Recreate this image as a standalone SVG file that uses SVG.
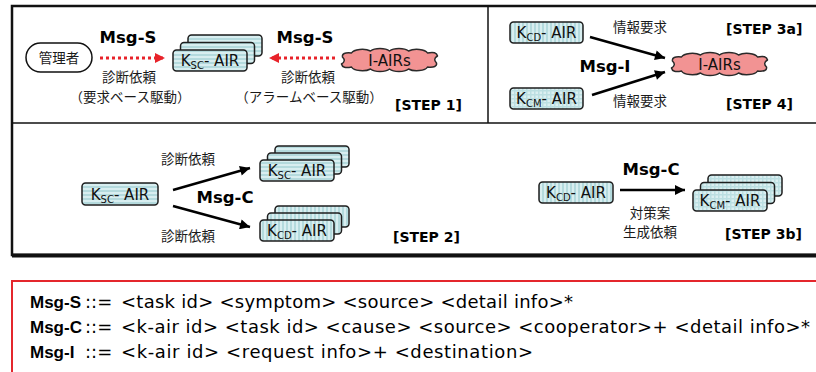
<svg xmlns="http://www.w3.org/2000/svg" width="816" height="372" viewBox="0 0 816 372">
  <style>
    .frame { fill: none; stroke: #111; stroke-width: 2.5; }
    .divider { stroke: #111; stroke-width: 1.5; }
    .kbox { stroke: #1e1e1e; stroke-width: 1.5; }
    .hs { fill: url(#hstripe); }
    .vs { fill: url(#vstripe); }
    .gr { fill: url(#grid); }
    .ktext { font-family: "DejaVu Sans", Verdana, sans-serif; font-size: 15px; fill: #111; text-anchor: middle; }
    .sub { font-size: 10px; }
    .msg { font-family: "DejaVu Sans", Verdana, sans-serif; font-weight: bold; font-size: 16.5px; fill: #000; text-anchor: middle; }
    .step { font-family: "DejaVu Sans", Verdana, sans-serif; font-weight: bold; font-size: 14px; fill: #000; }
    .jp { font-family: "Noto Sans CJK JP", "Noto Sans CJK SC", sans-serif; font-size: 13.5px; fill: #1a1a1a; text-anchor: middle; }
    .cloud { fill: #f29393; stroke: #2a2a2a; stroke-width: 1.5; stroke-linejoin: round; }
    .cloudtext { font-family: "DejaVu Sans", Verdana, sans-serif; font-size: 15px; fill: #111; text-anchor: middle; }
    .arrow { fill: none; stroke: #000; stroke-width: 2.5; marker-end: url(#blackhead); }
    .dotted { fill: none; stroke: #e8232a; stroke-width: 3; stroke-dasharray: 3 3; marker-end: url(#redhead); }
    .def { font-family: "DejaVu Sans", Verdana, sans-serif; font-size: 18px; fill: #000; }
    .defkey { font-family: "Liberation Sans", Arial, sans-serif; font-size: 17px; font-weight: bold; fill: #000; }
  </style>
  <defs>
    <pattern id="hstripe" width="6" height="4" patternUnits="userSpaceOnUse">
      <rect width="6" height="4" fill="#d8eef0"/>
      <rect y="2" width="6" height="2" fill="#b4dadd"/>
    </pattern>
    <pattern id="vstripe" width="4" height="6" patternUnits="userSpaceOnUse">
      <rect width="4" height="6" fill="#d8eef0"/>
      <rect x="2" width="2" height="6" fill="#b4dadd"/>
    </pattern>
    <pattern id="grid" width="4" height="4" patternUnits="userSpaceOnUse">
      <rect width="4" height="4" fill="#dbeff1"/>
      <rect y="2" width="4" height="1.5" fill="#bcdfe2"/>
      <rect x="2" width="1.5" height="4" fill="#bcdfe2"/>
    </pattern>
    <marker id="blackhead" viewBox="0 0 10 10" refX="10" refY="5" markerWidth="11" markerHeight="10" markerUnits="userSpaceOnUse" orient="auto">
      <path d="M0,0 L10,5 L0,10 Z" fill="#000"/>
    </marker>
    <marker id="redhead" viewBox="0 0 10 10" refX="10" refY="5" markerWidth="10" markerHeight="10" markerUnits="userSpaceOnUse" orient="auto">
      <path d="M0,0 L10,5 L0,10 Z" fill="#e8232a"/>
    </marker>
    <!-- cloud outline centred on the origin, about 96 x 24 -->
    <path id="cloudshape" d="M-38,-7 A11,5 0 0 1 -19,-9 A11,5 0 0 1 0,-9 A11,5 0 0 1 19,-9 A11,5 0 0 1 38,-7 Q47,-9 48,-4 Q43,-1 47,3 Q48,8 38,7 A11,5 0 0 1 19,9 A11,5 0 0 1 0,9 A11,5 0 0 1 -19,9 A11,5 0 0 1 -38,7 Q-47,9 -48,4 Q-43,1 -47,-3 Q-48,-8 -38,-7 Z"/>
  </defs>

  <rect width="816" height="372" fill="#fff"/>

  <!-- panel frame -->
  <g id="frame">
    <rect class="frame" x="12" y="6" width="830" height="249"/>
    <line x1="12" y1="255.5" x2="816" y2="255.5" stroke="#111" stroke-width="4"/>
    <line class="divider" x1="12" y1="123" x2="816" y2="123"/>
    <line class="divider" x1="488" y1="6" x2="488" y2="123"/>
  </g>

  <!-- connectors -->
  <g id="connectors">
    <path class="dotted" d="M100,58 L165,58"/>
    <path class="dotted" d="M335,58 L269,58"/>
    <path class="arrow" d="M173,190 L250,168"/>
    <path class="arrow" d="M173,206 L250,227"/>
    <path class="arrow" d="M590,37 L665,58"/>
    <path class="arrow" d="M592,95 L665,72"/>
    <path class="arrow" d="M620,190 L685,190"/>
  </g>

  <!-- STEP 1 -->
  <g id="admin">
    <rect x="26" y="43" width="66" height="29" rx="14.5" fill="#fff" stroke="#111" stroke-width="1.5"/>
    <text class="jp" x="59" y="63" font-size="15">管理者</text>
  </g>
  <g id="ksc-stack-1">
    <rect class="kbox hs" x="188" y="35" width="74" height="21" rx="3.5"/>
    <rect class="kbox hs" x="180.5" y="42.5" width="74" height="21" rx="3.5"/>
    <rect class="kbox hs" x="173" y="50" width="74" height="21" rx="3.5"/>
    <text class="ktext" x="210" y="66">K<tspan class="sub" dy="3">SC</tspan><tspan dy="-3">- AIR</tspan></text>
  </g>
  <g id="iairs-1">
    <use href="#cloudshape" class="cloud" transform="translate(389.5,60)"/>
    <text class="cloudtext" x="389.5" y="65.5">I-AIRs</text>
  </g>
  <g id="labels-1">
    <text class="msg" x="128" y="43">Msg-S</text>
    <text class="msg" x="305" y="43">Msg-S</text>
    <text class="jp" x="129" y="82">診断依頼</text>
    <text class="jp" x="130" y="102">（要求ベース駆動）</text>
    <text class="jp" x="308" y="82">診断依頼</text>
    <text class="jp" x="309" y="102">（アラームベース駆動）</text>
    <text class="step" x="395" y="110">[STEP 1]</text>
  </g>

  <!-- STEP 3a / STEP 4 -->
  <g id="kcd-3a">
    <rect class="kbox vs" x="510" y="22" width="73" height="21" rx="3.5"/>
    <text class="ktext" x="546.5" y="38">K<tspan class="sub" dy="3">CD</tspan><tspan dy="-3">- AIR</tspan></text>
  </g>
  <g id="kcm-4">
    <rect class="kbox gr" x="510" y="88" width="73" height="21" rx="3.5"/>
    <text class="ktext" x="546.5" y="104">K<tspan class="sub" dy="3">CM</tspan><tspan dy="-3">- AIR</tspan></text>
  </g>
  <g id="iairs-3a">
    <use href="#cloudshape" class="cloud" transform="translate(719.5,64)"/>
    <text class="cloudtext" x="719.5" y="69.5">I-AIRs</text>
  </g>
  <g id="labels-3a">
    <text class="jp" x="640" y="32">情報要求</text>
    <text class="jp" x="640" y="106">情報要求</text>
    <text class="msg" x="605" y="72">Msg-I</text>
    <text class="step" x="726" y="34">[STEP 3a]</text>
    <text class="step" x="726" y="109">[STEP 4]</text>
  </g>

  <!-- STEP 2 -->
  <g id="ksc-2">
    <rect class="kbox hs" x="82" y="183" width="76" height="22" rx="3.5"/>
    <text class="ktext" x="120" y="199.5">K<tspan class="sub" dy="3">SC</tspan><tspan dy="-3">- AIR</tspan></text>
  </g>
  <g id="ksc-stack-2">
    <rect class="kbox hs" x="275" y="146" width="74" height="21" rx="3.5"/>
    <rect class="kbox hs" x="267.5" y="153" width="74" height="21" rx="3.5"/>
    <rect class="kbox hs" x="260" y="160" width="74" height="21" rx="3.5"/>
    <text class="ktext" x="297" y="176">K<tspan class="sub" dy="3">SC</tspan><tspan dy="-3">- AIR</tspan></text>
  </g>
  <g id="kcd-stack-2">
    <rect class="kbox vs" x="275" y="206" width="74" height="21" rx="3.5"/>
    <rect class="kbox vs" x="267.5" y="213" width="74" height="21" rx="3.5"/>
    <rect class="kbox vs" x="260" y="220" width="74" height="21" rx="3.5"/>
    <text class="ktext" x="297" y="236">K<tspan class="sub" dy="3">CD</tspan><tspan dy="-3">- AIR</tspan></text>
  </g>
  <g id="labels-2">
    <text class="jp" x="188" y="164" font-size="14">診断依頼</text>
    <text class="jp" x="188" y="241" font-size="14">診断依頼</text>
    <text class="msg" x="225" y="203">Msg-C</text>
    <text class="step" x="393" y="242">[STEP 2]</text>
  </g>

  <!-- STEP 3b -->
  <g id="kcd-3b">
    <rect class="kbox vs" x="539" y="182" width="74" height="21" rx="3.5"/>
    <text class="ktext" x="576" y="198">K<tspan class="sub" dy="3">CD</tspan><tspan dy="-3">- AIR</tspan></text>
  </g>
  <g id="kcm-stack-3b">
    <rect class="kbox gr" x="708" y="175" width="74" height="21" rx="3.5"/>
    <rect class="kbox gr" x="700.5" y="182.5" width="74" height="21" rx="3.5"/>
    <rect class="kbox gr" x="693" y="190" width="74" height="21" rx="3.5"/>
    <text class="ktext" x="730" y="206">K<tspan class="sub" dy="3">CM</tspan><tspan dy="-3">- AIR</tspan></text>
  </g>
  <g id="labels-3b">
    <text class="msg" x="651" y="175">Msg-C</text>
    <text class="jp" x="650" y="218" font-size="12.5">対策案</text>
    <text class="jp" x="650" y="237" font-size="12.5">生成依頼</text>
    <text class="step" x="725" y="239">[STEP 3b]</text>
  </g>

  <!-- message grammar -->
  <g id="grammar">
    <rect x="12" y="281" width="830" height="120" fill="#fff" stroke="#e4262c" stroke-width="2"/>
    <text class="defkey" x="30" y="308">Msg-S</text>
    <text class="def" x="85" y="308">::=</text>
    <text class="def" x="121" y="308" textLength="452">&lt;task id&gt; &lt;symptom&gt; &lt;source&gt; &lt;detail info&gt;*</text>
    <text class="defkey" x="30" y="333">Msg-C</text>
    <text class="def" x="85" y="333">::=</text>
    <text class="def" x="121" y="333" textLength="689">&lt;k-air id&gt; &lt;task id&gt; &lt;cause&gt; &lt;source&gt; &lt;cooperator&gt;+ &lt;detail info&gt;*</text>
    <text class="defkey" x="30" y="358">Msg-I</text>
    <text class="def" x="85" y="358">::=</text>
    <text class="def" x="121" y="358" textLength="412">&lt;k-air id&gt; &lt;request info&gt;+ &lt;destination&gt;</text>
  </g>
</svg>
